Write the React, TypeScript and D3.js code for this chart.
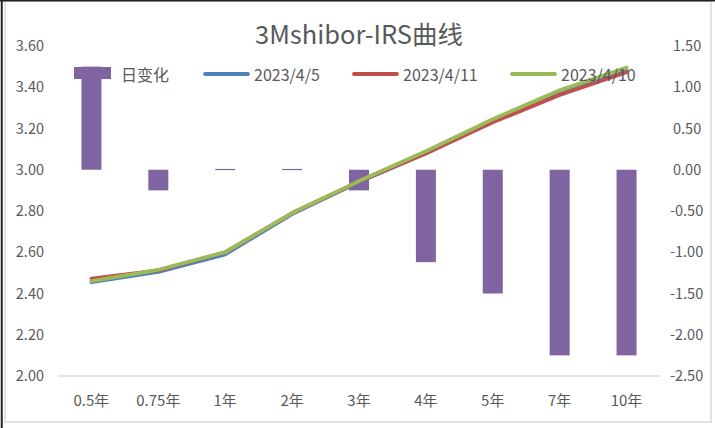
import React from "react";
import * as d3 from "d3";

const categories = ["0.5年", "0.75年", "1年", "2年", "3年", "4年", "5年", "7年", "10年"];
const dailyChange = [1.25, -0.25, 0.01, 0.01, -0.25, -1.12, -1.5, -2.25, -2.25];
const s0405 = [2.455, 2.505, 2.59, 2.785, 2.94, 3.08, 3.235, 3.37, 3.48];
const s0411 = [2.4725, 2.5125, 2.6, 2.79, 2.9425, 3.079, 3.23, 3.3625, 3.4725];
const s0410 = [2.46, 2.515, 2.6, 2.79, 2.945, 3.09, 3.245, 3.385, 3.495];
const leftTicks = [2.0, 2.2, 2.4, 2.6, 2.8, 3.0, 3.2, 3.4, 3.6];
const rightTicks = [-2.5, -2.0, -1.5, -1.0, -0.5, 0.0, 0.5, 1.0, 1.5];

const W = 715, H = 428;
const FONT = "'Microsoft YaHei', 'Noto Sans CJK SC', 'Open Sans', sans-serif";
const TXT = "#595959";

export default function App() {
  const x = d3.scaleBand<string>().domain(categories).range([58, 660]).padding(0);
  const yL = d3.scaleLinear().domain([2.0, 3.6]).range([376, 46]);
  const yR = d3.scaleLinear().domain([-2.5, 1.5]).range([376, 46]);
  const barW = 20;
  const cx = (c: string) => (x(c) as number) + x.bandwidth() / 2;
  const line = d3.line<number>().x((_, i) => cx(categories[i])).y((d) => yL(d));

  const series = [
    { name: "2023/4/5", data: s0405, color: "#4f81bd" },
    { name: "2023/4/11", data: s0411, color: "#c0504d" },
    { name: "2023/4/10", data: s0410, color: "#9bbb59" },
  ];
  const legendItems = [
    { x: 205, color: "#4f81bd", name: "2023/4/5" },
    { x: 354, color: "#c0504d", name: "2023/4/11" },
    { x: 512, color: "#9bbb59", name: "2023/4/10" },
  ];

  return (
    <svg width={W} height={H} style={{ position: "absolute", left: 0, top: 0, background: "#fff" }} fontFamily={FONT}>
      <rect x={0} y={0} width={W} height={H} fill="#fff" />
      <rect x={5} y={1} width={706} height={421} fill="none" stroke="#d9d9d9" strokeWidth={1.5} />
      <line x1={0} y1={0.75} x2={W} y2={0.75} stroke="#222" strokeWidth={1.5} />
      <line x1={1.75} y1={0} x2={1.75} y2={H} stroke="#222" strokeWidth={2} />

      <text x={359} y={44} textAnchor="middle" fontSize={25.5} fill={TXT}>3Mshibor-IRS曲线</text>

      {/* bottom axis line */}
      <line x1={58} y1={yL(2.0)} x2={660} y2={yL(2.0)} stroke="#d9d9d9" strokeWidth={1.5} />

      {/* bars */}
      {categories.map((c, i) => {
        const v = dailyChange[i];
        const y0 = yR(0), y1 = yR(v);
        return (
          <rect key={c} x={cx(c) - barW / 2} y={Math.min(y0, y1)} width={barW}
            height={Math.max(1.2, Math.abs(y1 - y0))} fill="#8064a2" />
        );
      })}

      {/* lines */}
      {series.map((s) => (
        <path key={s.name} d={line(s.data) || ""} fill="none" stroke={s.color} strokeWidth={3.8} strokeLinejoin="round" strokeLinecap="round" />
      ))}

      {/* left ticks */}
      {leftTicks.map((t) => (
        <text key={"l" + t} x={44} y={yL(t) + 5} textAnchor="end" fontSize={14.5} fill={TXT}>{t.toFixed(2)}</text>
      ))}
      {/* right ticks */}
      {rightTicks.map((t) => (
        <text key={"r" + t} x={t < 0 ? 670 : 673} y={yR(t) + 5} textAnchor="start" fontSize={14.5} fill={TXT}>{t.toFixed(2)}</text>
      ))}
      {/* x labels */}
      {categories.map((c) => (
        <text key={"x" + c} x={cx(c)} y={406} textAnchor="middle" fontSize={15} fill={TXT}>{c}</text>
      ))}

      {/* legend */}
      <rect x={74} y={67} width={37} height={12} fill="#8064a2" />
      <text x={121} y={81} fontSize={16} fill={TXT}>日变化</text>
      {legendItems.map((l) => (
        <g key={l.name}>
          <line x1={l.x} y1={74} x2={l.x + 43} y2={74} stroke={l.color} strokeWidth={3.8} strokeLinecap="round" />
          <text x={l.x + 49} y={81} fontSize={16} fill={TXT}>{l.name}</text>
        </g>
      ))}
    </svg>
  );
}
